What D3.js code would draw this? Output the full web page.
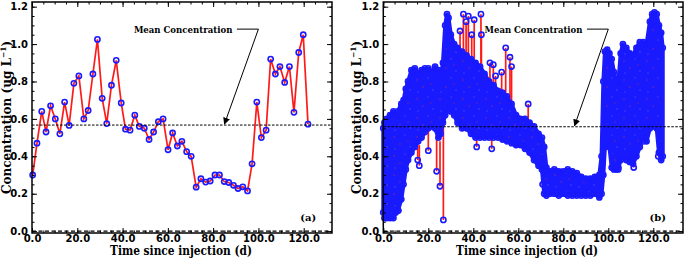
<!DOCTYPE html>
<html>
<head>
<meta charset="utf-8">
<script src="https://cdn.jsdelivr.net/npm/d3@7"></script>
<style>
  body { margin: 0; background: #fff; }
  svg { display: block; }
</style>
</head>
<body>
<div id="chart"></div>
<script>
// ---- data ----
// (a) daily samples
const daysA = [0.3, 2.2, 4.3, 6.2, 8.2, 10.3, 12.3, 14.4, 16.4, 18.5, 20.7, 22.9, 24.8, 26.9, 28.9,
  31.0, 33.0, 35.1, 37.2, 39.4, 41.3, 43.3, 45.4, 47.4, 49.6, 51.7, 53.7, 55.8, 57.9, 60.1,
  62.1, 64.2, 66.2, 68.3, 70.3, 72.5, 74.6, 76.7, 78.7, 80.8, 82.8, 84.9, 86.9, 89.0, 91.0,
  93.1, 95.2, 97.2, 99.3, 101.3, 103.4, 105.4, 107.5, 109.5, 111.6, 113.7, 115.7, 117.8, 119.8, 121.9]
const concA = [0.30, 0.47, 0.64, 0.53, 0.67, 0.60, 0.52, 0.69, 0.565, 0.79, 0.83, 0.60, 0.645, 0.84, 1.025,
  0.71, 0.575, 0.78, 0.913, 0.685, 0.545, 0.54, 0.62, 0.56, 0.55, 0.49, 0.53, 0.585, 0.60, 0.435,
  0.525, 0.455, 0.48, 0.425, 0.40, 0.235, 0.28, 0.262, 0.268, 0.30, 0.30, 0.265, 0.26, 0.245, 0.228,
  0.237, 0.215, 0.36, 0.69, 0.50, 0.54, 0.92, 0.84, 0.88, 0.795, 0.88, 0.635, 0.955, 1.05, 0.572]
const meanA = 0.567

// (b) high-frequency record: band of the dense samples (upper / lower) ...
const bandDays = [0.0, 0.5, 1.5, 3.0, 4.5, 5.5, 6.5, 8.0, 9.0, 10.0, 11.0, 12.5, 14.0, 15.5, 17.0,
  18.5, 20.0, 21.5, 23.0, 24.5, 25.5, 26.5, 27.5, 28.3, 29.0, 30.0, 31.5, 33.0, 35.0, 37.0,
  39.0, 41.0, 43.0, 45.0, 47.0, 49.0, 51.0, 53.0, 55.0, 57.0, 59.0, 61.0, 63.0, 65.0, 67.0,
  69.0, 70.5, 71.5, 72.5, 74.0, 76.0, 78.0, 80.0, 82.0, 84.0, 86.0, 88.0, 90.0, 92.0, 94.0,
  96.0, 97.0, 97.8, 98.5, 99.5, 100.5, 101.5, 102.5, 103.5, 104.5, 105.5, 106.5, 108.0, 109.5, 111.0,
  112.5, 114.0, 115.5, 117.0, 118.5, 119.5, 120.5, 121.5, 122.5, 123.5, 124.2]
const bandHigh = [0.55, 0.58, 0.60, 0.62, 0.64, 0.62, 0.64, 0.68, 0.70, 0.76, 0.80, 0.86, 0.87, 0.84, 0.86,
  0.87, 0.87, 0.85, 0.88, 0.86, 0.82, 0.90, 1.10, 1.16, 1.14, 1.05, 1.00, 0.98, 0.96, 0.94,
  0.92, 0.90, 0.88, 0.84, 0.80, 0.78, 0.75, 0.74, 0.72, 0.68, 0.62, 0.60, 0.60, 0.58, 0.56,
  0.52, 0.50, 0.45, 0.34, 0.32, 0.33, 0.32, 0.32, 0.33, 0.32, 0.31, 0.29, 0.28, 0.28, 0.29,
  0.30, 0.40, 0.80, 0.96, 0.97, 0.95, 0.92, 0.85, 0.80, 0.80, 0.95, 1.00, 0.98, 0.95, 0.94,
  0.98, 1.01, 1.01, 1.00, 1.12, 1.16, 1.17, 1.16, 1.10, 1.06, 0.98]
const bandLow = [0.10, 0.07, 0.08, 0.07, 0.07, 0.10, 0.11, 0.17, 0.25, 0.33, 0.38, 0.42, 0.45, 0.48, 0.50,
  0.53, 0.55, 0.56, 0.55, 0.50, 0.52, 0.58, 0.62, 0.65, 0.66, 0.64, 0.62, 0.58, 0.55, 0.55,
  0.52, 0.50, 0.50, 0.50, 0.50, 0.50, 0.50, 0.49, 0.48, 0.47, 0.46, 0.46, 0.44, 0.42, 0.38,
  0.35, 0.33, 0.20, 0.19, 0.20, 0.20, 0.19, 0.20, 0.19, 0.19, 0.19, 0.19, 0.19, 0.19, 0.20,
  0.18, 0.20, 0.30, 0.45, 0.55, 0.45, 0.34, 0.33, 0.33, 0.34, 0.38, 0.40, 0.38, 0.37, 0.36,
  0.40, 0.45, 0.50, 0.48, 0.55, 0.56, 0.58, 0.55, 0.42, 0.38, 0.40]
// ... and the isolated excursions outside that band (stem start, value)
const spikeDays = [1.5, 6.7, 15.3, 16.0, 20.0, 23.7, 25.2, 26.7, 34.1, 35.6, 36.8, 37.8, 39.3, 40.4, 43.4,
  43.6, 41.5, 47.4, 48.2, 48.9, 49.9, 52.6, 54.4, 56.3, 57.0, 64.4, 70.8, 104.4, 111.3, 115.6, 122.2]
const spikeFrom = [0.10, 0.20, 0.46, 0.46, 0.55, 0.52, 0.48, 0.58, 0.97, 0.95, 0.95, 0.94, 0.93, 0.92, 0.88,
  0.88, 0.50, 0.80, 0.50, 0.79, 0.77, 0.75, 0.73, 0.71, 0.69, 0.59, 0.33, 0.36, 0.38, 0.50, 0.45]
const spikeVals = [0.07, 0.11, 0.38, 0.35, 0.43, 0.32, 0.24, 0.06, 1.07, 1.16, 1.12, 1.15, 1.05, 1.13, 1.16,
  1.05, 0.45, 0.90, 0.44, 0.89, 0.83, 0.85, 0.98, 0.93, 0.88, 0.68, 0.25, 0.33, 0.34, 0.48, 0.40]
const meanB = 0.558

const xTicks = [0, 20, 40, 60, 80, 100, 120]
const yTicks = [0, 0.2, 0.4, 0.6, 0.8, 1.0, 1.2]

// ---- layout ----
const width = 685
const height = 258
const blue = "#1a1aff"
const red = "#ff1a1a"
const titleFont = "'DejaVu Serif', serif"

const svg = d3.select("#chart").append("svg")
  .attr("width", width)
  .attr("height", height)

// texture for the dense overlapping markers
const defs = svg.append("defs")
const pat = defs.append("pattern")
  .attr("id", "dense")
  .attr("patternUnits", "userSpaceOnUse")
  .attr("width", 23).attr("height", 19)
pat.append("rect").attr("width", 23).attr("height", 19).attr("fill", blue)
const specks = [[3, 4, "#c83048"], [14, 2, "#5a5aff"], [9, 11, "#c83048"], [19, 14, "#6a6aff"], [4, 16, "#5a5aff"], [17, 8, "#b02a50"]]
pat.selectAll("circle")
  .data(specks)
  .enter().append("circle")
    .attr("cx", d => d[0]).attr("cy", d => d[1])
    .attr("r", 0.7)
    .attr("fill", d => d[2])
    .attr("opacity", 0.65)

defs.append("marker")
  .attr("id", "arrow")
  .attr("viewBox", "0 0 10 10")
  .attr("refX", 9).attr("refY", 5)
  .attr("markerWidth", 7).attr("markerHeight", 7)
  .attr("markerUnits", "userSpaceOnUse")
  .attr("orient", "auto")
  .append("path")
    .attr("d", "M0,0 L10,5 L0,10 z")
    .attr("fill", "#000")

function drawPanel(p) {
  const x = d3.scaleLinear().domain([0, p.xMax]).range([p.left, p.right])
  const y = d3.scaleLinear().domain([-0.01, 1.225]).range([233, 2])

  const g = svg.append("g")

  // data
  p.drawData(g, x, y)

  // zero and mean lines
  g.append("line")
    .attr("x1", x(0)).attr("x2", p.right)
    .attr("y1", y(0)).attr("y2", y(0))
    .attr("stroke", "#000").attr("stroke-width", 1.4)
    .attr("stroke-dasharray", "4,2.5")
  g.append("line")
    .attr("x1", p.left).attr("x2", p.right)
    .attr("y1", y(p.mean)).attr("y2", y(p.mean))
    .attr("stroke", "#000").attr("stroke-width", 1)
    .attr("stroke-dasharray", "2.5,1.5")

  // annotation
  g.append("text")
    .attr("x", x(45)).attr("y", y(1.08) + 3.5)
    .attr("font-family", titleFont)
    .attr("font-weight", "bold")
    .attr("font-size", "9.5px")
    .attr("textLength", x(88.5) - x(45))
    .attr("lengthAdjust", "spacingAndGlyphs")
    .text("Mean Concentration")
  g.append("line")
    .attr("x1", x(90.5)).attr("x2", x(100))
    .attr("y1", y(1.08)).attr("y2", y(1.08))
    .attr("stroke", "#000").attr("stroke-width", 1)
  g.append("line")
    .attr("x1", x(100)).attr("y1", y(1.08))
    .attr("x2", x(85)).attr("y2", y(p.mean) - 1)
    .attr("stroke", "#000").attr("stroke-width", 1)
    .attr("marker-end", "url(#arrow)")

  g.append("text")
    .attr("x", x(122)).attr("y", y(0.055))
    .attr("text-anchor", "middle")
    .attr("font-family", titleFont)
    .attr("font-weight", "bold")
    .attr("font-size", "10px")
    .text(p.label)

  // frame
  g.append("rect")
    .attr("x", p.left).attr("y", 2)
    .attr("width", p.right - p.left).attr("height", 231)
    .attr("fill", "none").attr("stroke", "#000").attr("stroke-width", 1.5)

  // axes (ticks inside)
  const yMinor = d3.range(0, 1.21, 0.05)
  const xMinor = d3.range(0, p.xMax, 5)
  const tickFont = g => g.attr("font-family", "'DejaVu Sans', sans-serif")
    .attr("font-weight", "bold").attr("font-size", "10px")

  g.append("g").attr("transform", `translate(${p.left},0)`)
    .call(d3.axisLeft(y).tickValues(yTicks).tickFormat(d3.format(".1f")).tickSize(-5).tickPadding(4))
    .call(tickFont)
  g.append("g").attr("transform", `translate(${p.left},0)`)
    .call(d3.axisLeft(y).tickValues(yMinor).tickFormat("").tickSize(-2.5))
  g.append("g").attr("transform", `translate(${p.right},0)`)
    .call(d3.axisRight(y).tickValues(yTicks).tickFormat("").tickSize(-5))
  g.append("g").attr("transform", `translate(${p.right},0)`)
    .call(d3.axisRight(y).tickValues(yMinor).tickFormat("").tickSize(-2.5))

  g.append("g").attr("transform", "translate(0,233)")
    .call(d3.axisBottom(x).tickValues(xTicks).tickFormat(d3.format(".1f")).tickSize(-5).tickPadding(2))
    .call(tickFont)
  g.append("g").attr("transform", "translate(0,233)")
    .call(d3.axisBottom(x).tickValues(xMinor).tickFormat("").tickSize(-2.5))
  g.append("g").attr("transform", "translate(0,2)")
    .call(d3.axisTop(x).tickValues(xTicks).tickFormat("").tickSize(-5))
  g.append("g").attr("transform", "translate(0,2)")
    .call(d3.axisTop(x).tickValues(xMinor).tickFormat("").tickSize(-2.5))

  g.selectAll(".domain").remove()
  g.selectAll(".tick line").attr("stroke", "#000").attr("stroke-width", 1)

  // titles
  g.append("text")
    .attr("x", p.xTitleX).attr("y", 255)
    .attr("text-anchor", "middle")
    .attr("font-family", titleFont)
    .attr("font-weight", "bold")
    .attr("font-size", "12px")
    .attr("textLength", 142)
    .attr("lengthAdjust", "spacingAndGlyphs")
    .text("Time since injection (d)")

  const yt = g.append("text")
    .attr("transform", `translate(${p.yTitleX},117.5) rotate(-90)`)
    .attr("text-anchor", "middle")
    .attr("font-family", titleFont)
    .attr("font-weight", "bold")
    .attr("font-size", "12px")
  yt.append("tspan").text("Concentration (ug L")
  yt.append("tspan").attr("font-size", "7.5px").attr("dy", "-5").text("\u22121")
  yt.append("tspan").attr("dy", "5").text(")")
}

function lineWithCircles(g, x, y, days, vals) {
  const pts = days.map((d, i) => [d, vals[i]])
  g.append("path")
    .datum(pts)
    .attr("fill", "none")
    .attr("stroke", red)
    .attr("stroke-width", 1.7)
    .attr("d", d3.line().x(d => x(d[0])).y(d => y(d[1])))
  g.selectAll(null)
    .data(pts)
    .enter().append("circle")
      .attr("cx", d => x(d[0]))
      .attr("cy", d => y(d[1]))
      .attr("r", 2.6)
      .attr("fill", "none")
      .attr("stroke", blue)
      .attr("stroke-width", 1.6)
}

drawPanel({
  label: "(a)", left: 32, right: 332, xMax: 132.5, mean: meanA,
  xTitleX: 181, yTitleX: 11,
  drawData: (g, x, y) => lineWithCircles(g, x, y, daysA, concA)
})

drawPanel({
  label: "(b)", left: 383.3, right: 683, xMax: 133.2, mean: meanB,
  xTitleX: 527, yTitleX: 361,
  drawData: (g, x, y) => {
    const band = bandDays.map((d, i) => ({ d: d, hi: bandHigh[i], lo: bandLow[i] }))
    const spikes = spikeDays.map((d, i) => ({ d: d, from: spikeFrom[i], v: spikeVals[i] }))

    g.selectAll(null)
      .data(spikes)
      .enter().append("line")
        .attr("x1", s => x(s.d)).attr("x2", s => x(s.d))
        .attr("y1", s => y(s.from)).attr("y2", s => y(s.v))
        .attr("stroke", red).attr("stroke-width", 1.7)

    g.append("path")
      .datum(band)
      .attr("fill", "url(#dense)")
      .attr("stroke", blue)
      .attr("stroke-width", 4)
      .attr("stroke-linejoin", "round")
      .attr("d", d3.area().x(b => x(b.d)).y0(b => y(b.lo)).y1(b => y(b.hi)))

    const edge = band.flatMap(b => [[b.d, b.hi], [b.d, b.lo]])
    g.selectAll(null)
      .data(edge)
      .enter().append("circle")
        .attr("cx", d => x(d[0])).attr("cy", d => y(d[1]))
        .attr("r", 2.6)
        .attr("fill", "none").attr("stroke", blue).attr("stroke-width", 1.6)

    g.selectAll(null)
      .data(spikes)
      .enter().append("circle")
        .attr("cx", s => x(s.d)).attr("cy", s => y(s.v))
        .attr("r", 2.6)
        .attr("fill", "none").attr("stroke", blue).attr("stroke-width", 1.6)
  }
})
</script>
</body>
</html>
